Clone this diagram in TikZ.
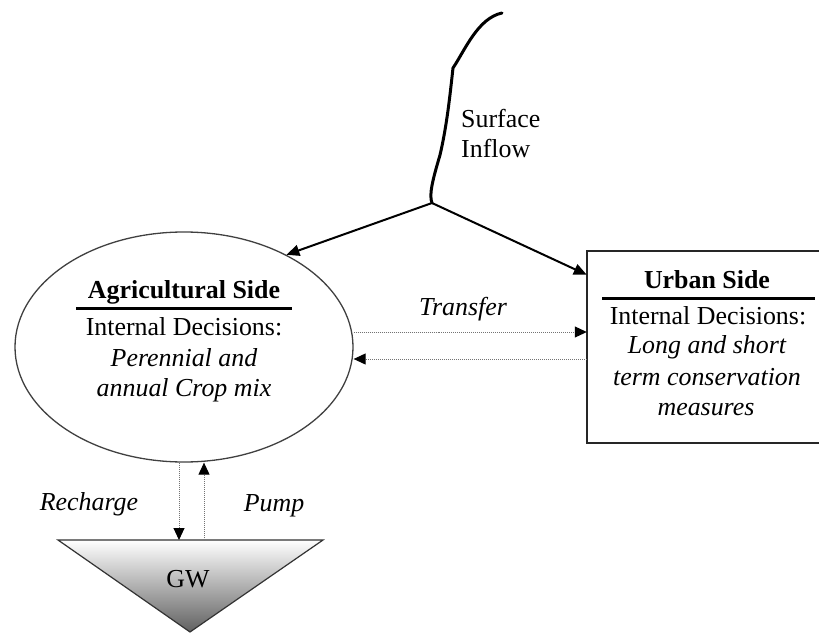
\documentclass[tikz,border=0pt]{standalone}
\usepackage{fontspec}
\setmainfont{Liberation Serif}
\usetikzlibrary{arrows.meta,calc,positioning,shapes.geometric}

\begin{document}
\begin{tikzpicture}[x=1bp, y=-1bp,
  txt/.style={font=\fontsize{26}{30}\selectfont, inner sep=0pt, anchor=base},
  inflow/.style={-{Triangle[length=13bp,width=11bp]}, line width=2bp},
  dotflow/.style={-{Triangle[length=12bp,width=11bp,color=black]}, densely dotted, line width=1bp, draw=black!55},
]
\useasboundingbox (0,0) rectangle (819,633);

% Agricultural side (ellipse)
\node[ellipse, draw=black!75, line width=1.3bp, minimum width=338bp, minimum height=230bp, inner sep=0pt] (agri) at (184,347) {};
\node[txt] (agriTitle) at (184,298) {\bfseries Agricultural Side};
\draw[line width=3bp] (76,308) -- (292,308);
\node[txt] (agriDec) at (184,335) {Internal Decisions:};
\node[txt] (agriMix1) at (184,366) {\itshape Perennial and};
\node[txt] (agriMix2) at (184,396) {\itshape annual Crop mix};

% Urban side (box, open at the right where the picture cuts it)
\node[minimum width=232bp, minimum height=192bp, inner sep=0pt] (urban) at (703,347) {};
\draw[black!85, line width=2bp] (urban.north east) -- (urban.north west) -- (urban.south west) -- (urban.south east);
\node[txt] (urbTitle) at (707,288) {\bfseries Urban Side};
\draw[line width=3bp] (602,298) -- (815,298);
\node[txt] (urbDec) at (708,324) {Internal Decisions:};
\node[txt] (urbCons1) at (707,353) {\itshape Long and short};
\node[txt] (urbCons2) at (707,385) {\itshape term conservation};
\node[txt] (urbCons3) at (706,415) {\itshape measures};

% Surface inflow
\coordinate (junc) at (432,203);
\draw[line width=3bp, line cap=round, line join=round] (502,13) .. controls (478,18) and (465,50) .. (453,68)
  .. controls (450,95) and (447,125) .. (440,155) .. controls (432,182) and (429,195) .. (junc);
\node[txt, anchor=base west] (surf) at (461,128) {Surface};
\node[txt, anchor=base west] (infl) at (461,158) {Inflow};
\draw[inflow] (junc) -- (agri.42);
\draw[inflow] (junc) -- ($(urban.north west)+(0,24)$);

% Transfer between sides
\coordinate (trOut) at ($(agri.east)+(0,-15)$);
\coordinate (trIn) at ($(agri.east)+(0,12)$);
\draw[dotflow] (trOut) -- (trOut -| urban.west);
\draw[dotflow] (trIn -| urban.west) -- (trIn);
\node[txt] (transfer) at (463,315) {\itshape Transfer};

% Groundwater
\coordinate (gwL) at (58,540);
\coordinate (gwR) at (323,540);
\coordinate (gwB) at (190,632);
\shadedraw[top color=white, bottom color=black!62, draw=black!80, line width=1.2bp] (gwL) -- (gwR) -- (gwB) -- cycle;
\node[txt] (gw) at (188,587) {GW};

% Recharge and pumping
\coordinate (rch) at ($(agri.south)+(-5,0)$);
\coordinate (pmp) at ($(agri.south)+(20,0)$);
\draw[dotflow] (rch) -- (rch |- gwL);
\draw[dotflow] (pmp |- gwL) -- (pmp);
\node[txt] (recharge) at (89,510) {\itshape Recharge};
\node[txt] (pump) at (274,511) {\itshape Pump};
\end{tikzpicture}
\end{document}
